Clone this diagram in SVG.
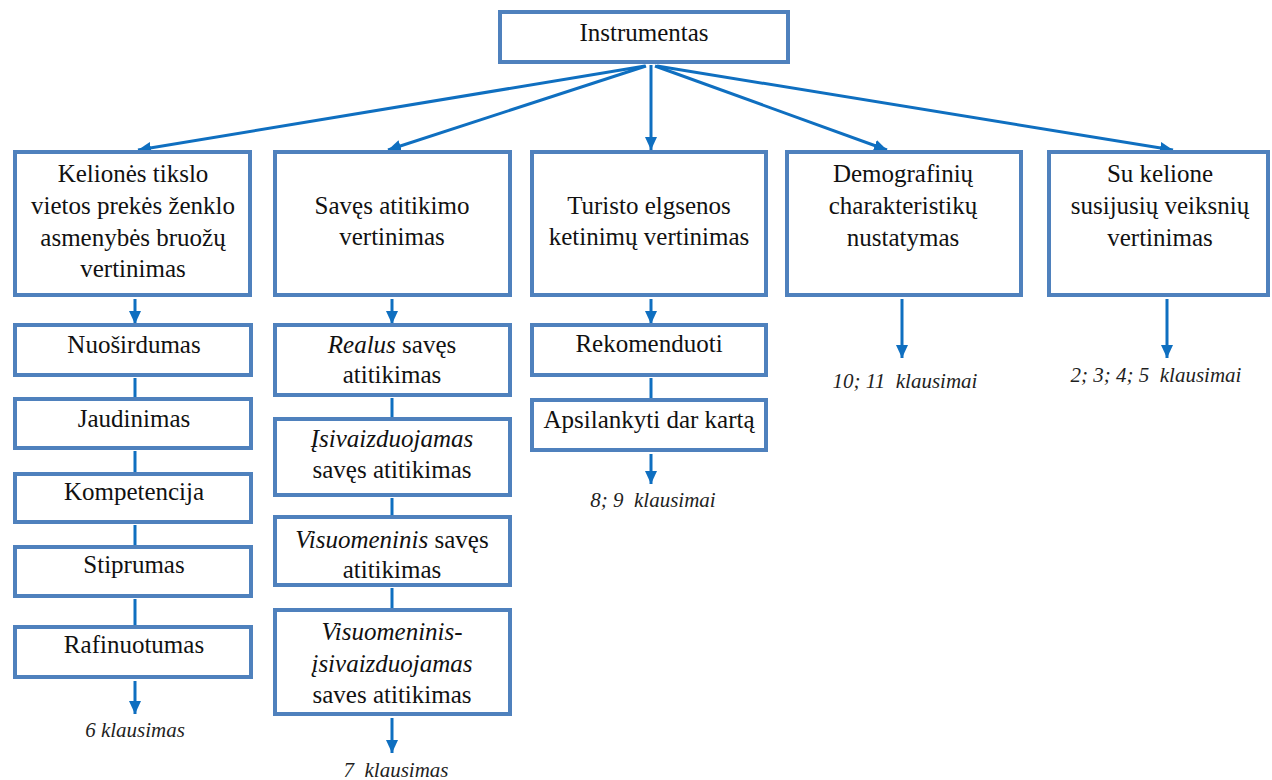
<svg xmlns="http://www.w3.org/2000/svg" width="1272" height="780" viewBox="0 0 1272 780">
  <style>
    .box { fill: #ffffff; stroke: #4f81bd; stroke-width: 4; }
    .t { font-family: "Liberation Serif", "Times New Roman", serif; font-size: 25px; fill: #111111; text-anchor: middle; }
    .i { font-style: italic; }
    .lbl { font-family: "Liberation Serif", "Times New Roman", serif; font-size: 21px; font-style: italic; fill: #1f1f1f; text-anchor: middle; white-space: pre; }
    .arr { stroke: #0f6fc0; stroke-width: 3; fill: none; marker-end: url(#head); }
    .lnk { stroke: #0f6fc0; stroke-width: 3; fill: none; }
  </style>
  <defs>
    <marker id="head" markerUnits="userSpaceOnUse" markerWidth="14" markerHeight="14" refX="13" refY="7" orient="auto">
      <path d="M0,1 L13,7 L0,13 z" fill="#0f6fc0"/>
    </marker>
  </defs>

  <rect width="1272" height="780" fill="#ffffff"/>

  <g id="connectors">
    <!-- root to the five branches -->
    <line class="arr" x1="645" y1="66" x2="138" y2="150"/>
    <line class="arr" x1="646" y1="66" x2="388" y2="150"/>
    <line class="arr" x1="651" y1="65" x2="651" y2="150"/>
    <line class="arr" x1="655" y1="66" x2="887" y2="150"/>
    <line class="arr" x1="657" y1="66" x2="1173" y2="150"/>
    <!-- branch heads to their first item -->
    <line class="arr" x1="135" y1="299" x2="135" y2="324"/>
    <line class="arr" x1="392" y1="299" x2="392" y2="324"/>
    <line class="arr" x1="651" y1="299" x2="651" y2="324"/>
    <!-- chains inside the columns -->
    <line class="lnk" x1="135" y1="378" x2="135" y2="397"/>
    <line class="lnk" x1="135" y1="451" x2="135" y2="472"/>
    <line class="lnk" x1="135" y1="525" x2="135" y2="545"/>
    <line class="lnk" x1="135" y1="599" x2="135" y2="625"/>
    <line class="lnk" x1="392" y1="398" x2="392" y2="417"/>
    <line class="lnk" x1="392" y1="498" x2="392" y2="515"/>
    <line class="lnk" x1="392" y1="588" x2="392" y2="608"/>
    <line class="lnk" x1="651" y1="378" x2="651" y2="398"/>
    <!-- arrows to question references -->
    <line class="arr" x1="135" y1="681" x2="135" y2="714"/>
    <line class="arr" x1="392" y1="718" x2="392" y2="753"/>
    <line class="arr" x1="651" y1="454" x2="651" y2="484"/>
    <line class="arr" x1="902" y1="299" x2="902" y2="358"/>
    <line class="arr" x1="1167" y1="299" x2="1167" y2="358"/>
  </g>

  <g id="root">
    <rect class="box" x="500" y="12" width="288" height="50"/>
    <text class="t" x="644" y="41">Instrumentas</text>
  </g>

  <g id="brand-personality">
    <rect class="box" x="15" y="152" width="235" height="143"/>
    <text class="t" x="133" y="182">Kelionės tikslo</text>
    <text class="t" x="133" y="214">vietos prekės ženklo</text>
    <text class="t" x="133" y="246">asmenybės bruožų</text>
    <text class="t" x="133" y="277">vertinimas</text>
  </g>
  <g id="self-congruity">
    <rect class="box" x="275" y="152" width="235" height="143"/>
    <text class="t" x="392" y="214">Savęs atitikimo</text>
    <text class="t" x="392" y="245">vertinimas</text>
  </g>
  <g id="behaviour-intentions">
    <rect class="box" x="532" y="152" width="234" height="143"/>
    <text class="t" x="649" y="214">Turisto elgsenos</text>
    <text class="t" x="649" y="245">ketinimų vertinimas</text>
  </g>
  <g id="demographics">
    <rect class="box" x="787" y="152" width="234" height="143"/>
    <text class="t" x="903" y="182">Demografinių</text>
    <text class="t" x="903" y="214">charakteristikų</text>
    <text class="t" x="903" y="246">nustatymas</text>
  </g>
  <g id="trip-factors">
    <rect class="box" x="1049" y="152" width="219" height="143"/>
    <text class="t" x="1160" y="182">Su kelione</text>
    <text class="t" x="1160" y="214">susijusių veiksnių</text>
    <text class="t" x="1160" y="246">vertinimas</text>
  </g>

  <!-- first column items -->
  <g id="sincerity">
    <rect class="box" x="15" y="325" width="236" height="50"/>
    <text class="t" x="134" y="353">Nuoširdumas</text>
  </g>
  <g id="excitement">
    <rect class="box" x="15" y="399" width="236" height="49"/>
    <text class="t" x="134" y="427">Jaudinimas</text>
  </g>
  <g id="competence">
    <rect class="box" x="15" y="474" width="236" height="48"/>
    <text class="t" x="134" y="500">Kompetencija</text>
  </g>
  <g id="ruggedness">
    <rect class="box" x="15" y="547" width="236" height="49"/>
    <text class="t" x="134" y="573">Stiprumas</text>
  </g>
  <g id="sophistication">
    <rect class="box" x="15" y="627" width="236" height="50"/>
    <text class="t" x="134" y="653">Rafinuotumas</text>
  </g>

  <!-- second column items -->
  <g id="actual-self">
    <rect class="box" x="275" y="325" width="235" height="70"/>
    <text class="t" x="392" y="353"><tspan class="i">Realus</tspan> savęs</text>
    <text class="t" x="392" y="383">atitikimas</text>
  </g>
  <g id="ideal-self">
    <rect class="box" x="275" y="419" width="235" height="76"/>
    <text class="t i" x="392" y="447">Įsivaizduojamas</text>
    <text class="t" x="392" y="478">savęs atitikimas</text>
  </g>
  <g id="social-self">
    <rect class="box" x="275" y="517" width="235" height="68"/>
    <text class="t" x="392" y="548"><tspan class="i">Visuomeninis</tspan> savęs</text>
    <text class="t" x="392" y="578">atitikimas</text>
  </g>
  <g id="ideal-social-self">
    <rect class="box" x="275" y="610" width="235" height="104"/>
    <text class="t i" x="392" y="640">Visuomeninis-</text>
    <text class="t i" x="392" y="672">įsivaizduojamas</text>
    <text class="t" x="392" y="703">saves atitikimas</text>
  </g>

  <!-- third column items -->
  <g id="recommend">
    <rect class="box" x="532" y="325" width="234" height="50"/>
    <text class="t" x="649" y="352">Rekomenduoti</text>
  </g>
  <g id="revisit">
    <rect class="box" x="532" y="400" width="234" height="50"/>
    <text class="t" x="649" y="428">Apsilankyti dar kartą</text>
  </g>

  <!-- question references -->
  <g id="q6"><text class="lbl" x="135" y="737">6 klausimas</text></g>
  <g id="q7"><text class="lbl" x="396" y="777">7  klausimas</text></g>
  <g id="q8-9"><text class="lbl" x="653" y="507">8; 9  klausimai</text></g>
  <g id="q10-11"><text class="lbl" x="905" y="388">10; 11  klausimai</text></g>
  <g id="q2-5"><text class="lbl" x="1156" y="382">2; 3; 4; 5  klausimai</text></g>
</svg>
